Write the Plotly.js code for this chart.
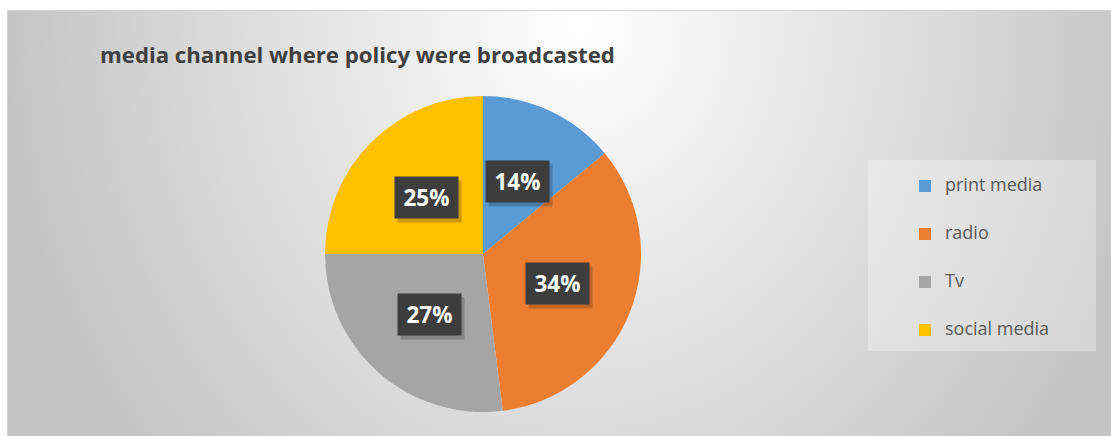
<!DOCTYPE html>
<html>
<head>
<meta charset="utf-8">
<script src="https://cdn.plot.ly/plotly-3.0.1.min.js"></script>
<style>
  html, body { margin: 0; padding: 0; background: #ffffff; width: 1111px; height: 436px; overflow: hidden; }
  #frame { position: absolute; left: 7px; top: 10px; width: 1110px; height: 430px;
    border-left: 1px solid #d2d2d2; border-top: 1px solid #d2d2d2;
    background: radial-gradient(ellipse 580px 680px at 573px 10px, #ffffff 0%, #c4c4c4 100%); }
  #chart { position: absolute; left: 0; top: 0; width: 1111px; height: 436px; }
</style>
</head>
<body>
<div id="frame"></div>
<div id="chart"></div>
<script>
const categories = ["print media", "radio", "Tv", "social media"];
const values = [14, 34, 27, 25];
const sliceColors = ["#5B9BD5", "#ED7D31", "#A5A5A5", "#FFC000"];
const chartTitle = "media channel where policy were broadcasted";

const W = 1111, H = 436;
// pie placement (pixels)
const cx = 483, cy = 254, R = 158;
const domX = [(cx - R) / W, (cx + R) / W];
const domY = [1 - (cy + R) / H, 1 - (cy - R) / H];

const legendLabels = categories.map(c => "\u00a0<br><span style='font-size:18px'>" + c + "</span><br>\u00a0");

const total = values.reduce((a, b) => a + b, 0);
const annotations = [];
let cum = 0;
values.forEach((v, i) => {
  const mid = 2 * Math.PI * (cum + v / 2) / total;
  cum += v;
  const px = cx + 0.51 * R * Math.sin(mid);
  const py = cy - 0.51 * R * Math.cos(mid);
  const pct = Math.round(100 * v / total) + "%";
  // shadow
  annotations.push({
    x: (px + 3) / W, y: 1 - (py + 4) / H, xref: "paper", yref: "paper",
    text: "", showarrow: false, width: 63, height: 41, borderpad: 0,
    bgcolor: "rgba(0,0,0,0.2)", xanchor: "center", yanchor: "middle"
  });
  annotations.push({
    x: px / W, y: 1 - py / H, xref: "paper", yref: "paper",
    text: pct, showarrow: false, width: 63, height: 41, borderpad: 0,
    bgcolor: "#3d3d3d", xanchor: "center", yanchor: "middle",
    font: { family: "Open Sans", size: 22.5, color: "#ffffff", weight: 700 }
  });
});

const data = [{
  type: "pie",
  labels: legendLabels,
  values: values,
  sort: false,
  direction: "clockwise",
  rotation: 0,
  marker: { colors: sliceColors, line: { width: 0 } },
  textinfo: "none",
  hoverinfo: "skip",
  domain: { x: domX, y: domY }
}];

const layout = {
  width: W, height: H,
  margin: { l: 0, r: 0, t: 0, b: 0 },
  paper_bgcolor: "rgba(0,0,0,0)",
  plot_bgcolor: "rgba(0,0,0,0)",
  title: {
    text: chartTitle, x: 100 / W, xanchor: "left", y: 1 - 55 / H, yanchor: "middle",
    font: { family: "Open Sans", size: 22.2, color: "#404040", weight: 700 }
  },
  showlegend: true,
  legend: {
    x: 905 / W, xanchor: "left", y: 1 - 157 / H, yanchor: "top",
    bgcolor: "rgba(0,0,0,0)", borderwidth: 0,
    font: { family: "Open Sans", size: 11.54, color: "#595959" },
    traceorder: "normal"
  },
  shapes: [{
    type: "rect", xref: "paper", yref: "paper", layer: "below",
    x0: 868 / W, x1: 1096 / W, y0: 1 - 351 / H, y1: 1 - 160 / H,
    fillcolor: "rgba(255,255,255,0.3)", line: { width: 0 }
  }],
  annotations: annotations
};

Plotly.newPlot("chart", data, layout, { displayModeBar: false, staticPlot: true });
</script>
</body>
</html>
